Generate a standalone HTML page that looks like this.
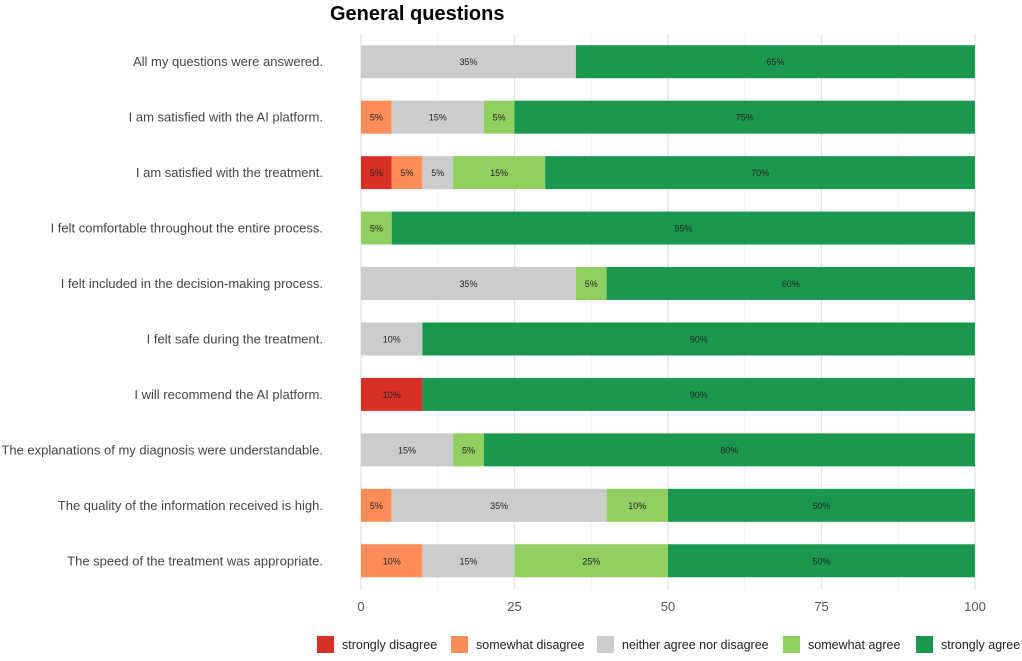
<!DOCTYPE html>
<html><head><meta charset="utf-8"><style>
body{margin:0;background:#fff;font-family:"Liberation Sans",sans-serif;}
svg text{font-family:"Liberation Sans",sans-serif;}
</style></head><body>
<svg id="chart" width="1022" height="656" xmlns="http://www.w3.org/2000/svg">
<text x="330" y="20" font-size="20" font-weight="bold" fill="#000">General questions</text>
<g id="grid"></g><g id="bars"></g><g id="axis"></g><g id="legend"></g>
</svg>
<script>
const questions=["All my questions were answered.","I am satisfied with the AI platform.","I am satisfied with the treatment.","I felt comfortable throughout the entire process.","I felt included in the decision-making process.","I felt safe during the treatment.","I will recommend the AI platform.","The explanations of my diagnosis were understandable.","The quality of the information received is high.","The speed of the treatment was appropriate."];
const categories=["strongly disagree","somewhat disagree","neither agree nor disagree","somewhat agree","strongly agree"];
const stronglyDisagree=[0,0,5,0,0,0,10,0,0,0];
const somewhatDisagree=[0,5,5,0,0,0,0,0,5,10];
const neither=[35,15,5,0,35,10,0,15,35,15];
const somewhatAgree=[0,5,15,5,5,0,0,5,10,25];
const stronglyAgree=[65,75,70,95,60,90,90,80,50,50];
const xTicks=[0,25,50,75,100];
const colors=["#d73027","#fc8d59","#cccccc","#91cf60","#1a9850"];
const series=[stronglyDisagree,somewhatDisagree,neither,somewhatAgree,stronglyAgree];
const NS="http://www.w3.org/2000/svg";
const x0=361,x1=975,yTop=34,step=55.45,bh=33;
const xs=v=>x0+(x1-x0)*v/100;
const yc=i=>yTop+step*(i+0.5);
function mk(tag,attrs,parent){const e=document.createElementNS(NS,tag);for(const k in attrs)e.setAttribute(k,attrs[k]);parent.appendChild(e);return e;}
const grid=document.getElementById('grid'),bars=document.getElementById('bars'),axis=document.getElementById('axis'),legend=document.getElementById('legend');
for(let v=0;v<=100;v+=12.5){const l=mk('line',{x1:xs(v),x2:xs(v),y1:yTop,y2:590,stroke:v%25===0?'#e3e3e3':'#f0f0f0','stroke-width':v%25===0?1.2:0.8},grid);

}
questions.forEach((q,i)=>{
 const t=mk('text',{x:323,y:yc(i)+4.5,'text-anchor':'end','font-size':13,fill:'#444'},axis);t.textContent=q;
 
 
 let acc=0;
 series.forEach((s,j)=>{const v=s[i];if(!v)return;
  const r=mk('rect',{x:xs(acc),y:yc(i)-bh/2,width:xs(acc+v)-xs(acc),height:bh,fill:colors[j]},bars);
  
  
  const tx=mk('text',{x:(xs(acc)+xs(acc+v))/2,y:yc(i)+3.5,'text-anchor':'middle','font-size':9,fill:'#222'},bars);tx.textContent=v+'%';
  
  
  acc+=v;});
});
xTicks.forEach(v=>{const t=mk('text',{x:xs(v),y:611,'text-anchor':'middle','font-size':13,fill:'#555'},axis);t.textContent=v;
 
 });
const lx=[317,451,597,783,916];
categories.forEach((c,j)=>{
 const r=mk('rect',{x:lx[j],y:636,width:17,height:17,fill:colors[j]},legend);
 
 
 const t=mk('text',{x:lx[j]+25,y:649,'font-size':12.5,fill:'#222'},legend);t.textContent=c;
 
 
});
</script>
</body></html>
